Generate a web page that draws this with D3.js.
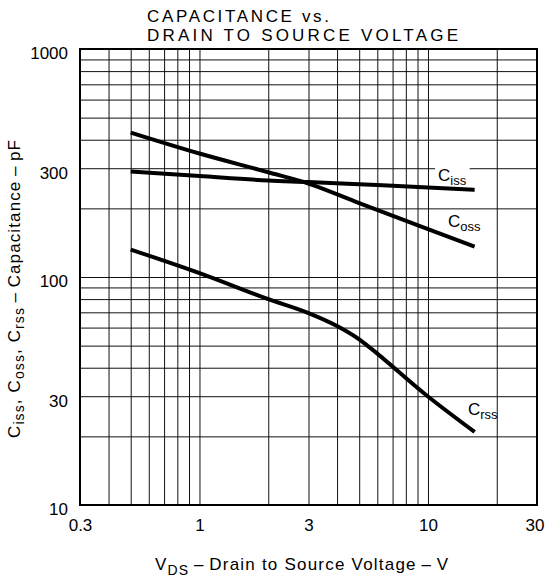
<!DOCTYPE html>
<html>
<head>
<meta charset="utf-8">
<script src="https://cdn.jsdelivr.net/npm/d3@7"></script>
<style>
  body { margin: 0; background: #fff; }
  svg { font-family: 'Liberation Sans', Arial, sans-serif; }
  .grid line { stroke: #111; stroke-width: 1; }
  .grid path { display: none; }
  .ticks path, .ticks line { display: none; }
</style>
</head>
<body>
<svg width="545" height="587"></svg>
<script>
// data
var vdsIss = [0.5, 1, 2, 3, 5, 10, 16];
var ciss   = [290, 277, 265, 261, 255, 247, 241];
var vdsOss = [0.5, 1, 2, 3, 5, 10, 16];
var coss   = [430, 348, 288, 257, 211, 162, 136];
var vdsRss = [0.5, 1, 2, 3, 4, 5, 5.5, 10, 16];
var crss   = [132, 104, 80, 69.5, 61, 53.3, 49.5, 29.9, 20.9];

var xTicks = [0.3, 1, 3, 10, 30];
var yTicks = [10, 30, 100, 300, 1000];
var xGrid  = [0.4, 0.5, 0.6, 0.7, 0.8, 0.9, 1, 2, 3, 4, 5, 6, 7, 8, 9, 10, 20];
var yGrid  = [20, 30, 40, 50, 60, 70, 80, 90, 100, 200, 300, 400, 500, 600, 700, 800, 900];

// chart margin
var margin = { top: 49, right: 8, bottom: 82, left: 80 },
    width  = 545 - margin.left - margin.right,
    height = 587 - margin.top - margin.bottom;

var x = d3.scaleLog().domain([0.3, 30]).range([0, width]);
var y = d3.scaleLog().domain([10, 1000]).range([height, 0]);

var svg = d3.select('svg')
  .append('g')
  .attr('transform', 'translate(' + margin.left + ',' + margin.top + ')');

// grid
svg.append('g')
  .attr('class', 'grid')
  .attr('transform', 'translate(0,' + height + ')')
  .call(d3.axisBottom(x).tickValues(xGrid).tickSize(-height).tickFormat(''));

svg.append('g')
  .attr('class', 'grid')
  .call(d3.axisLeft(y).tickValues(yGrid).tickSize(-width).tickFormat(''));

// frame
svg.append('rect')
  .attr('width', width)
  .attr('height', height)
  .attr('fill', 'none')
  .attr('stroke', '#000')
  .attr('stroke-width', 2);

// tick labels
var xAx = svg.append('g')
  .attr('class', 'ticks')
  .attr('transform', 'translate(0,' + height + ')')
  .call(d3.axisBottom(x).tickValues(xTicks).tickSize(0).tickPadding(14).tickFormat(d3.format('')));
xAx.selectAll('text').style('font-size', '17px').style('font-family', 'Liberation Sans, Arial, sans-serif').attr('fill', '#000');
// last label sits against the page edge, keep it inside
xAx.selectAll('text').filter(function(d) { return d === 30; })
  .attr('text-anchor', 'end').attr('x', 7);

var yAx = svg.append('g')
  .attr('class', 'ticks')
  .call(d3.axisLeft(y).tickValues(yTicks).tickSize(0).tickPadding(12).tickFormat(d3.format('')));
yAx.selectAll('text').style('font-size', '17px').style('font-family', 'Liberation Sans, Arial, sans-serif').attr('fill', '#000').attr('dy', '0.58em');

// curves
var line = d3.line()
  .x(function(d) { return x(d[0]); })
  .y(function(d) { return y(d[1]); })
  .curve(d3.curveMonotoneX);

var series = [
  { name: 'iss', v: vdsIss, c: ciss },
  { name: 'oss', v: vdsOss, c: coss },
  { name: 'rss', v: vdsRss, c: crss }
];

svg.selectAll('.curve')
  .data(series)
  .enter()
  .append('path')
  .attr('class', 'curve')
  .attr('d', function(s) { return line(s.v.map(function(v, i) { return [v, s.c[i]]; })); })
  .attr('fill', 'none')
  .attr('stroke', '#000')
  .attr('stroke-width', 4);

// curve labels
var labels = [
  { sub: 'iss', px: 438 - margin.left, py: 181 - margin.top, gap: true },
  { sub: 'oss', px: 448 - margin.left, py: 227 - margin.top, gap: false },
  { sub: 'rss', px: 468 - margin.left, py: 415 - margin.top, gap: false }
];

labels.forEach(function(l) {
  var bg = svg.append('rect').attr('fill', '#fff');
  var t = svg.append('text')
    .attr('x', l.px)
    .attr('y', l.py)
    .style('font-size', '17px');
  t.append('tspan').text('C');
  t.append('tspan').attr('dy', 4).style('font-size', '13px').text(l.sub);
  if (l.gap) {
    // break the gridline behind the label only
    var bb = t.node().getBBox();
    bg.attr('x', bb.x - 3).attr('y', bb.y).attr('width', bb.width + 6).attr('height', 11);
  }
});

// title
var title = d3.select('svg').append('g').style('font-size', '17px');
title.append('text').attr('x', 147).attr('y', 22)
  .attr('textLength', 182).attr('lengthAdjust', 'spacing')
  .text('CAPACITANCE vs.');
title.append('text').attr('x', 147).attr('y', 41)
  .attr('textLength', 311).attr('lengthAdjust', 'spacing')
  .text('DRAIN TO SOURCE VOLTAGE');

// x axis title
var xt = d3.select('svg').append('text')
  .attr('x', 155).attr('y', 570)
  .attr('textLength', 293).attr('lengthAdjust', 'spacing')
  .style('font-size', '17px');
xt.append('tspan').text('V');
xt.append('tspan').attr('dy', 5).style('font-size', '14px').text('DS');
xt.append('tspan').attr('dy', -5).text('\u2009\u2013\u2009Drain to Source Voltage\u2009\u2013\u2009V');

// y axis title
var yt = d3.select('svg').append('text')
  .attr('transform', 'translate(20,' + 289 + ') rotate(-90)')
  .attr('text-anchor', 'middle')
  .attr('textLength', 298).attr('lengthAdjust', 'spacing')
  .style('font-size', '17px');
yt.append('tspan').text('C');
yt.append('tspan').attr('dy', 4).style('font-size', '14px').text('iss');
yt.append('tspan').attr('dy', -4).text(', C');
yt.append('tspan').attr('dy', 4).style('font-size', '14px').text('oss');
yt.append('tspan').attr('dy', -4).text(', C');
yt.append('tspan').attr('dy', 4).style('font-size', '14px').text('rss');
yt.append('tspan').attr('dy', -4).text('\u2009\u2013\u2009Capacitance\u2009\u2013\u2009pF');
</script>
</body>
</html>
